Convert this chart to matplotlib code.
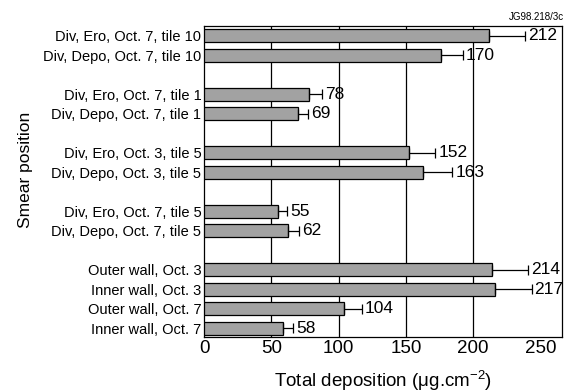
import matplotlib
matplotlib.use('Agg')
import matplotlib.pyplot as plt
import numpy as np

plt.rcParams['font.family'] = ['Liberation Sans', 'DejaVu Sans']
plt.rcParams['mathtext.fontset'] = 'custom'
plt.rcParams['mathtext.rm'] = 'Liberation Sans'
plt.rcParams['mathtext.it'] = 'Liberation Sans'
plt.rcParams['mathtext.default'] = 'regular'

# smear positions, top to bottom
positions = ['Div, Ero, Oct. 7, tile 10', 'Div, Depo, Oct. 7, tile 10',
             'Div, Ero, Oct. 7, tile 1', 'Div, Depo, Oct. 7, tile 1',
             'Div, Ero, Oct. 3, tile 5', 'Div, Depo, Oct. 3, tile 5',
             'Div, Ero, Oct. 7, tile 5', 'Div, Depo, Oct. 7, tile 5',
             'Outer wall, Oct. 3', 'Inner wall, Oct. 3',
             'Outer wall, Oct. 7', 'Inner wall, Oct. 7']
# row slots (gaps between groups)
rows = [0, 1, 3, 4, 6, 7, 9, 10, 12, 13, 14, 15]
# bar lengths as drawn
deposition = [212, 176, 78, 69.5, 152.5, 163, 55, 62, 214, 216.5, 104, 58.5]
# upper error (added to bar)
err_up = [26.5, 16.5, 10, 7.5, 19.5, 21.5, 6.5, 8.5, 27, 27, 13.5, 7.5]
value_labels = ['212', '170', '78', '69', '152', '163', '55', '62',
                '214', '217', '104', '58']
xticks = [0, 50, 100, 150, 200, 250]

fig = plt.figure(figsize=(5.67, 3.92), dpi=100)
ax = fig.add_axes([0.36, 0.14, 0.631, 0.794])

ax.barh(rows, deposition, height=0.68, color='#a2a2a2', edgecolor='black',
        linewidth=0.9, zorder=3)
ax.errorbar(deposition, rows, xerr=[np.zeros(len(rows)), err_up], fmt='none',
            ecolor='black', elinewidth=0.9, capsize=3.5, capthick=0.9, zorder=3)
for y, v, e, lab in zip(rows, deposition, err_up, value_labels):
    ax.text(v + e + 2.2, y, lab, va='center', ha='left', fontsize=12.5)

ax.set_xlim(0, 266)
ax.set_ylim(15.45, -0.5)
ax.set_xticks(xticks)
ax.set_yticks(rows)
ax.set_yticklabels(positions, fontsize=10.5)
ax.tick_params(axis='x', length=0, labelsize=13.5, pad=2)
ax.tick_params(axis='y', length=0, pad=2)
for g in [50, 100, 150, 200]:
    ax.axvline(g, color='black', lw=0.9, zorder=1)
for s in ax.spines.values():
    s.set_linewidth(0.9)

ax.set_xlabel(r'Total deposition ($\mu$g.cm$^{-2}$)', fontsize=13.5, labelpad=9)
fig.text(0.045, 0.566, 'Smear position', rotation=90, va='center', ha='center',
         fontsize=12.5)
fig.text(0.995, 0.945, 'JG98.218/3c', ha='right', va='bottom', fontsize=7)

plt.savefig('out.png', dpi=100)
